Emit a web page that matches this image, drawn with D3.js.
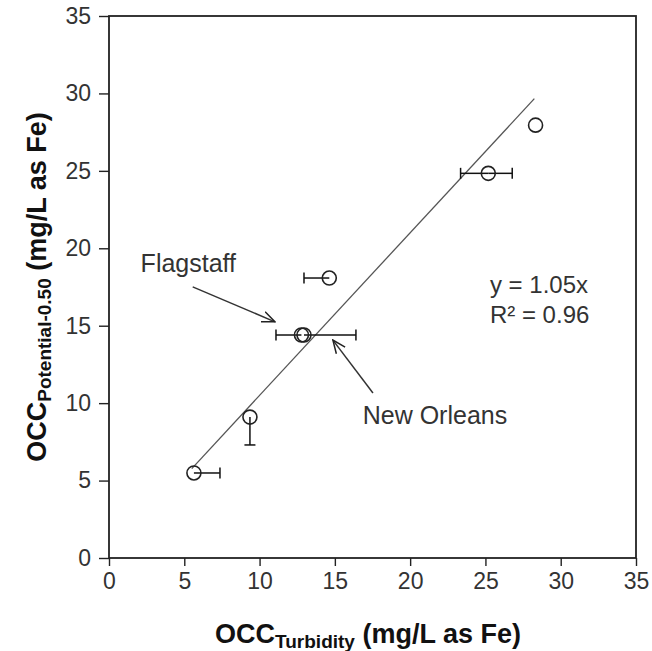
<!DOCTYPE html>
<html>
<head>
<meta charset="utf-8">
<script src="https://cdn.jsdelivr.net/npm/d3@7"></script>
<style>
  body { margin: 0; background: #fff; }
  text { font-family: "Liberation Sans", Arial, sans-serif; }
</style>
</head>
<body>
<div class="graph"></div>
<script>
// data
const sites = ["A", "B", "Flagstaff", "New Orleans", "C", "D", "E"];
const xVals = [5.64, 9.36, 12.78, 12.95, 14.63, 25.19, 28.33];
const yVals = [5.49, 9.10, 14.40, 14.40, 18.08, 24.84, 27.95];
// error bar ends (null = none drawn)
const xLow  = [null, null, 11.09, null, 12.95, 23.35, null];
const xHigh = [7.37, null, null, 16.40, null, 26.78, null];
const yLow  = [null, 7.30, null, null, null, null, null];
const slope = 1.05;
const fitRange = [5.5, 28.25];
const ticks = [0, 5, 10, 15, 20, 25, 30, 35];

const SIZE = {X: 652, Y: 651};
const MARGIN = {TOP: 16, LEFT: 109, RIGHT: 16, BOTTOM: 93};
const DIM = {WIDTH: SIZE.X - MARGIN.LEFT - MARGIN.RIGHT,
             HEIGHT: SIZE.Y - MARGIN.TOP - MARGIN.BOTTOM};

const svg = d3.select(".graph").append("svg")
    .attr("width", SIZE.X)
    .attr("height", SIZE.Y);

svg.append("defs").append("marker")
    .attr("id", "arrow")
    .attr("viewBox", "0 0 14 14")
    .attr("refX", 13).attr("refY", 7)
    .attr("markerWidth", 14).attr("markerHeight", 14)
    .attr("markerUnits", "userSpaceOnUse")
    .attr("orient", "auto")
  .append("path")
    .attr("d", "M0,1.5 L13,7 L0,12.5")
    .attr("fill", "none")
    .attr("stroke", "#222")
    .attr("stroke-width", 1.5);

const graph = svg.append("g")
    .attr("transform", `translate(${MARGIN.LEFT}, ${MARGIN.TOP})`);

const x = d3.scaleLinear().domain([0, 35]).range([0, DIM.WIDTH]);
const y = d3.scaleLinear().domain([0, 35]).range([DIM.HEIGHT, 0]);

//axes
const xAxis = graph.append("g")
    .attr("transform", `translate(0, ${DIM.HEIGHT})`)
    .call(d3.axisBottom(x).tickValues(ticks).tickSize(8).tickPadding(7));
const yAxis = graph.append("g")
    .call(d3.axisLeft(y).tickValues(ticks).tickSize(10).tickPadding(8));

[xAxis, yAxis].forEach(a => {
    a.select(".domain").remove();
    a.selectAll("line").attr("stroke", "#222").attr("stroke-width", 1.4);
    a.selectAll("text").attr("font-size", 23).attr("fill", "#333")
        .attr("font-family", "'Liberation Sans', Arial, sans-serif");
});

//frame
graph.append("rect")
    .attr("width", DIM.WIDTH).attr("height", DIM.HEIGHT)
    .attr("fill", "none").attr("stroke", "#222").attr("stroke-width", 1.8);

//trend line
graph.append("line")
    .attr("x1", x(fitRange[0])).attr("y1", y(slope * fitRange[0]))
    .attr("x2", x(fitRange[1])).attr("y2", y(slope * fitRange[1]))
    .attr("stroke", "#555").attr("stroke-width", 1.3);

//error bars
const cap = 5.5;
const eb = graph.append("g").attr("stroke", "#111").attr("stroke-width", 1.5);
xVals.forEach((xv, i) => {
    const yv = yVals[i];
    if (xLow[i] != null) {
        eb.append("line").attr("x1", x(xLow[i])).attr("x2", x(xv))
            .attr("y1", y(yv)).attr("y2", y(yv));
        eb.append("line").attr("x1", x(xLow[i])).attr("x2", x(xLow[i]))
            .attr("y1", y(yv) - cap).attr("y2", y(yv) + cap);
    }
    if (xHigh[i] != null) {
        eb.append("line").attr("x1", x(xv)).attr("x2", x(xHigh[i]))
            .attr("y1", y(yv)).attr("y2", y(yv));
        eb.append("line").attr("x1", x(xHigh[i])).attr("x2", x(xHigh[i]))
            .attr("y1", y(yv) - cap).attr("y2", y(yv) + cap);
    }
    if (yLow[i] != null) {
        eb.append("line").attr("x1", x(xv)).attr("x2", x(xv))
            .attr("y1", y(yv)).attr("y2", y(yLow[i]));
        eb.append("line").attr("x1", x(xv) - cap).attr("x2", x(xv) + cap)
            .attr("y1", y(yLow[i])).attr("y2", y(yLow[i]));
    }
});

//points
graph.selectAll("circle.pt")
    .data(xVals)
    .enter()
    .append("circle")
        .attr("class", "pt")
        .attr("cx", d => x(d))
        .attr("cy", (d, i) => y(yVals[i]))
        .attr("r", 7)
        .attr("fill", "none")
        .attr("stroke", "#222")
        .attr("stroke-width", 1.6);

//annotations
const notes = graph.append("g").attr("font-size", 25).attr("fill", "#333");
notes.append("text").attr("x", x(2.1)).attr("y", y(18.46)).text("Flagstaff");
notes.append("text").attr("x", x(16.85)).attr("y", y(8.65)).text("New Orleans");
const eq = graph.append("g").attr("font-size", 24).attr("fill", "#333");
eq.append("text").attr("x", x(25.3)).attr("y", y(17.1)).text("y = 1.05x");
eq.append("text").attr("x", x(25.3)).attr("y", y(15.17)).text("R² = 0.96");

graph.append("line")
    .attr("x1", x(5.56)).attr("y1", y(17.51))
    .attr("x2", x(11.02)).attr("y2", y(15.25))
    .attr("stroke", "#333").attr("stroke-width", 1.5)
    .attr("marker-end", "url(#arrow)");
graph.append("line")
    .attr("x1", x(17.53)).attr("y1", y(10.65))
    .attr("x2", x(14.87)).attr("y2", y(14.07))
    .attr("stroke", "#333").attr("stroke-width", 1.5)
    .attr("marker-end", "url(#arrow)");

//axis titles
const xt = svg.append("text")
    .attr("x", 368).attr("y", 643)
    .attr("text-anchor", "middle").attr("font-weight", "bold")
    .attr("font-size", 27).attr("fill", "#111");
xt.append("tspan").text("OCC");
xt.append("tspan").attr("font-size", 19).attr("dy", 5).text("Turbidity");
xt.append("tspan").attr("dy", -5).text(" (mg/L as Fe)");

const yt = svg.append("text")
    .attr("transform", `translate(46, 287) rotate(-90)`)
    .attr("text-anchor", "middle").attr("font-weight", "bold")
    .attr("font-size", 27).attr("fill", "#111");
yt.append("tspan").text("OCC");
yt.append("tspan").attr("font-size", 19).attr("dy", 5).text("Potential-0.50");
yt.append("tspan").attr("dy", -5).text(" (mg/L as Fe)");
</script>
</body>
</html>
